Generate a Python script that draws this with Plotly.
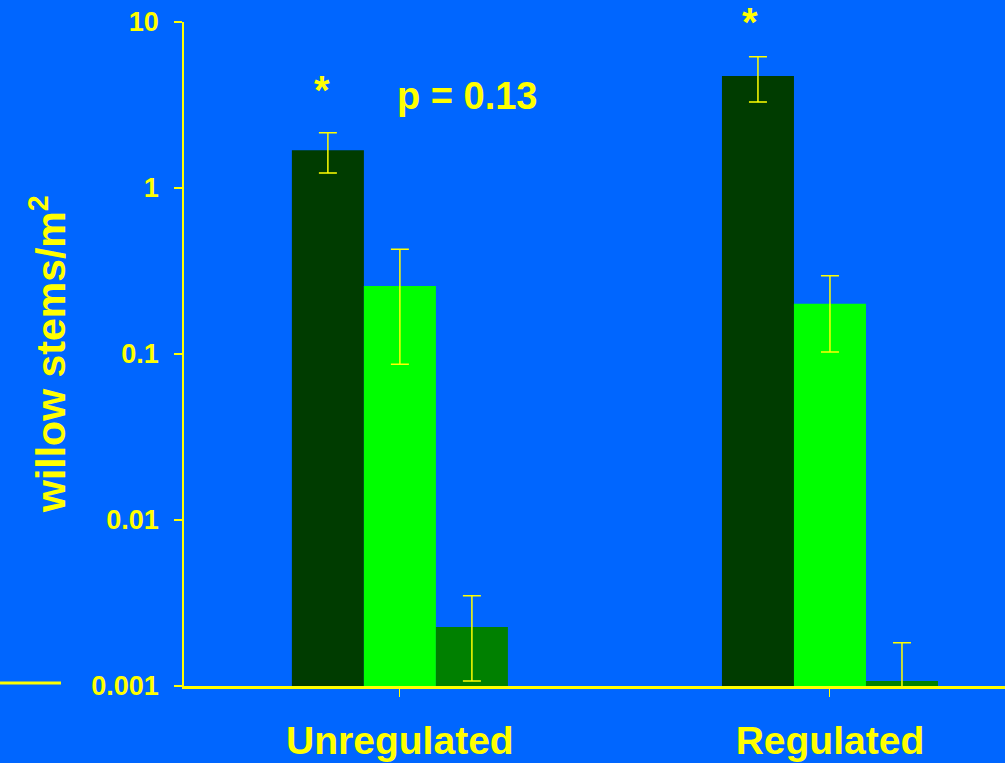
import plotly.graph_objects as go

categories = ["Unregulated", "Regulated"]
series_names = ["Series A", "Series B", "Series C"]
dark_vals = [1.69, 4.73]
dark_hi = [2.15, 6.18]
dark_lo = [1.23, 3.30]
light_vals = [0.257, 0.201]
light_hi = [0.428, 0.296]
light_lo = [0.0867, 0.1027]
mid_vals = [0.00227, 0.00107]
mid_hi = [0.0035, 0.00182]
mid_lo = [0.00107, 0.0005]
y_tickvals = [0.001, 0.01, 0.1, 1, 10]
y_ticktext = ["0.001", "0.01", "0.1", "1", "10"]

BG = "#0066FF"
YEL = "#FFFF00"
FONT = "Liberation Sans, Arial, sans-serif"

fig = go.Figure()
xs = list(range(len(categories)))
for name, vals, hi, lo, col in [
    (series_names[0], dark_vals, dark_hi, dark_lo, "#003C00"),
    (series_names[1], light_vals, light_hi, light_lo, "#00FF00"),
    (series_names[2], mid_vals, mid_hi, mid_lo, "#008000"),
]:
    fig.add_trace(go.Bar(
        x=xs, y=vals, name=name, marker=dict(color=col, line=dict(width=0)),
        error_y=dict(type="data", symmetric=False,
                     array=[h - v for h, v in zip(hi, vals)],
                     arrayminus=[v - l for v, l in zip(vals, lo)],
                     color=YEL, thickness=1.5, width=9),
    ))

fig.update_layout(
    width=1005, height=763,
    paper_bgcolor=BG, plot_bgcolor=BG,
    margin=dict(l=184, r=0, t=22, b=77),
    barmode="group", bargap=0.4977, bargroupgap=0,
    showlegend=False,
    font=dict(family=FONT, color=YEL),
)
fig.update_xaxes(
    range=[-0.502, 1.407], tickvals=xs, ticktext=categories,
    showgrid=False, zeroline=False, automargin=False,
    showline=True, linecolor=YEL, linewidth=3,
    ticks="outside", ticklen=8, tickwidth=1, tickcolor=YEL,
    ticklabelstandoff=10,
    tickfont=dict(family=FONT, size=39, color=YEL, weight="bold"),
)
fig.update_yaxes(
    type="log", range=[-3, 1], tickvals=y_tickvals, ticktext=y_ticktext,
    showgrid=False, zeroline=False, automargin=False,
    showline=True, linecolor=YEL, linewidth=1.5,
    ticks="outside", ticklen=8, tickwidth=1.5, tickcolor=YEL,
    ticklabelstandoff=10,
    tickfont=dict(family=FONT, size=27, color=YEL, weight="bold"),
)

fig.add_annotation(
    xref="paper", yref="paper", x=-0.1657, y=0.5,
    text="willow stems/m<sup>2</sup>", textangle=-90, showarrow=False,
    font=dict(family=FONT, size=41, color=YEL, weight="bold"),
    xanchor="center", yanchor="middle",
)
fig.add_annotation(
    x=-0.181, y=0.59, text="*", showarrow=False,
    font=dict(family=FONT, size=40, color=YEL, weight="bold"),
    xanchor="center", yanchor="middle",
)
fig.add_annotation(
    x=0.814, yref="paper", y=1.0, text="*", showarrow=False,
    font=dict(family=FONT, size=40, color=YEL, weight="bold"),
    xanchor="center", yanchor="middle",
)
fig.add_annotation(
    x=0.156, y=0.554, text="p = 0.13", showarrow=False,
    font=dict(family=FONT, size=38, color=YEL, weight="bold"),
    xanchor="center", yanchor="middle",
)
fig.add_shape(
    type="line", xref="paper", yref="paper",
    x0=-0.2241, x1=-0.1498, y0=0.0045, y1=0.0045,
    line=dict(color=YEL, width=3),
)

fig.write_html(
    "out.html",
    config={"displayModeBar": False},
    post_script="document.body.style.margin='0';document.body.style.overflow='hidden';",
)
